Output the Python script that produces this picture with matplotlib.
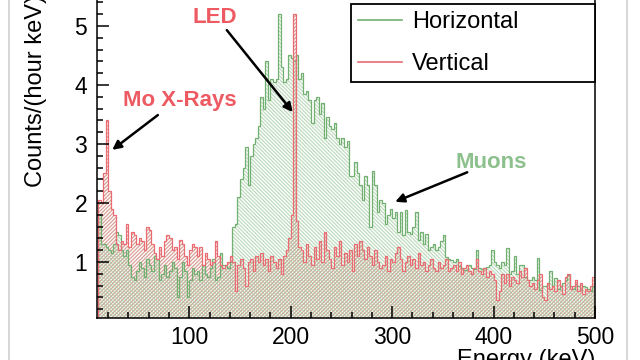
import numpy as np
import matplotlib
matplotlib.use('Agg')
import matplotlib.pyplot as plt
from matplotlib.ticker import MultipleLocator
from matplotlib.lines import Line2D

plt.rcParams['font.family'] = ['Liberation Sans', 'DejaVu Sans']
plt.rcParams['hatch.linewidth'] = 0.9

# energy binning (keV): 196 bins of 2.5 keV from 10 to 500
e_min, e_max, n_bins = 10, 500, 196
edges = np.linspace(e_min, e_max, n_bins + 1)

# counts/(hour keV)
vertical = [
    2.05, 2.0, 2.5, 3.4, 2.2, 1.9, 1.8, 1.3, 1.2, 1.35,
    1.3, 1.65, 1.25, 1.5, 1.45, 1.3, 1.4, 1.35, 1.2, 1.6,
    1.55, 1.3, 1.15, 1.05, 1.25, 1.1, 1.35, 1.45, 1.4, 1.2,
    1.25, 1.05, 1.38, 1.3, 1.1, 0.95, 1.2, 1.3, 1.25, 1.1,
    1.25, 0.95, 1.15, 1.05, 0.95, 1.0, 1.35, 1.1, 0.95, 0.9,
    0.95, 1.0, 1.1, 1.0, 0.5, 0.95, 1.05, 0.9, 0.6, 1.0,
    1.05, 0.85, 1.1, 1.0, 1.15, 0.95, 1.05, 0.85, 1.1, 1.0,
    0.9, 1.05, 0.8, 1.1, 1.2, 1.4, 1.8, 5.2, 1.7, 1.25,
    1.2, 1.0, 1.3, 1.1, 0.95, 1.25, 1.05, 1.35, 1.0, 1.5,
    1.2, 1.05, 0.9, 1.25, 1.1, 1.35, 0.95, 1.15, 1.0, 1.2,
    0.85, 1.3, 1.1, 1.35, 1.2, 1.05, 1.25, 1.1, 0.95, 1.2,
    1.0, 0.9, 0.95, 1.1, 0.85, 1.05, 1.0, 1.15, 1.25, 1.05,
    0.85, 1.0, 1.1, 0.95, 1.05, 0.9, 1.15, 0.95, 1.0, 0.85,
    0.95, 1.05, 0.9, 0.85, 1.0, 0.9, 0.95, 1.05, 0.85, 0.9,
    0.95, 0.85, 1.0, 0.8, 0.9, 0.95, 0.85, 0.8, 0.9, 1.05,
    0.85, 0.8, 0.9, 0.75, 0.85, 0.8, 0.7, 0.35, 0.5, 0.8,
    0.65, 0.8, 0.6, 0.75, 0.7, 0.65, 0.85, 0.75, 0.9, 0.7,
    0.6, 0.65, 0.55, 0.7, 0.8, 0.4, 0.35, 0.65, 0.55, 0.6,
    0.5, 0.7, 0.6, 0.45, 0.75, 0.8, 0.55, 0.6, 0.7, 0.5,
    0.65, 0.45, 0.55, 0.5, 0.6, 0.75,
]
horizontal = [
    1.8, 1.3, 1.3, 1.25, 1.2, 1.15, 1.3, 1.5, 1.45, 1.2,
    1.1, 1.2, 0.95, 0.75, 0.7, 0.85, 1.0, 0.9, 0.75, 1.05,
    0.95, 0.85, 1.1, 1.05, 0.7, 0.8, 0.95, 0.75, 0.85, 1.0,
    0.9, 0.4, 0.75, 1.0, 0.85, 0.4, 0.7, 0.9, 0.8, 0.85,
    0.7, 0.95, 0.8, 0.75, 0.9, 1.05, 0.7, 0.75, 1.15, 0.95,
    0.95, 0.9, 1.0, 1.6, 1.65, 2.1, 2.4, 2.6, 2.95, 2.3,
    2.8, 3.0, 3.1, 3.3, 3.8, 3.6, 4.4, 3.75, 4.1, 4.05,
    4.1, 5.2, 4.3, 4.05, 4.1, 4.5, 4.45, 4.4, 4.5, 4.1,
    4.2, 3.85, 3.9, 3.75, 3.35, 3.75, 3.8, 3.5, 3.7, 3.1,
    3.45, 3.3, 3.25, 3.35, 3.1, 3.0, 3.1, 2.95, 3.05, 2.45,
    2.45, 2.7, 2.5, 2.3, 2.05, 2.45, 2.3, 1.6, 2.55, 2.3,
    1.85, 2.05, 2.0, 1.65, 1.8, 1.9, 1.75, 1.85, 1.5, 1.85,
    1.45, 1.88, 1.5, 1.48, 1.6, 1.85, 1.37, 1.5, 1.3, 1.48,
    1.2, 1.25, 1.3, 1.2, 1.25, 1.35, 1.45, 1.08, 1.05, 1.03,
    1.0, 1.05, 0.93, 0.9, 0.87, 0.87, 0.95, 0.9, 0.88, 1.2,
    0.9, 0.88, 0.9, 0.92, 0.95, 1.2, 1.0, 0.95, 0.9, 1.0,
    0.95, 1.23, 0.8, 0.85, 1.1, 0.8, 0.95, 0.95, 0.75, 0.7,
    0.7, 0.75, 0.7, 1.07, 0.52, 0.6, 0.6, 0.65, 0.85, 0.6,
    0.73, 0.55, 0.6, 0.65, 0.7, 0.78, 0.6, 0.55, 0.62, 0.6,
    0.52, 0.6, 0.58, 0.55, 0.5, 0.6,
]

x_ticks = [100, 200, 300, 400, 500]
y_ticks = [1, 2, 3, 4, 5]

green_line = '#72b072'
green_hatch = (0.64, 0.80, 0.64, 0.7)
red_line = '#ea6b72'
red_hatch = '#d9a096'

fig = plt.figure(figsize=(6.4, 3.6), dpi=100)
# axes top runs past the figure edge, like the cropped original
ax = fig.add_axes([97 / 640, 42 / 360, 498 / 640, 328 / 360])

ax.stairs(vertical, edges, fill=True, facecolor='none', edgecolor=red_hatch,
          hatch='/' * 9, linewidth=0)
ax.stairs(horizontal, edges, fill=True, facecolor='none', edgecolor=green_hatch,
          hatch='\\' * 9, linewidth=0)
ax.stairs(horizontal, edges, color=green_line, linewidth=0.9, label='Horizontal')
ax.stairs(vertical, edges, color=red_line, linewidth=0.9, label='Vertical')

ax.set_xlim(9, 500)
ax.set_ylim(0.05, 5.61)
ax.set_xticks(x_ticks)
ax.set_yticks(y_ticks)
ax.xaxis.set_minor_locator(MultipleLocator(20))
ax.yaxis.set_minor_locator(MultipleLocator(0.2))
ax.tick_params(which='both', direction='in', width=1.1, labelsize=16.5)
ax.tick_params(which='major', length=8.5)
ax.tick_params(which='minor', length=4.3)
ax.tick_params(axis='x', pad=6)
ax.tick_params(axis='y', pad=7)
for s in ax.spines.values():
    s.set_linewidth(1.1)

# labels (partly cut off in the original)
fig.text(36 / 640, (360 - 187) / 360, 'Counts/(hour keV)', rotation=90,
         ha='center', va='bottom', fontsize=17)
fig.text(595 / 640, (360 - 349) / 360, 'Energy (keV)', ha='right', va='top', fontsize=17)

# annotations
red_txt = '#ee5a62'
green_txt = '#8cc08c'
arrow = dict(arrowstyle='-|>', color='black', lw=1.8, mutation_scale=13, shrinkA=0, shrinkB=0)
ax.text(125, 5.15, 'LED', color=red_txt, fontsize=16, fontweight='bold', ha='center', va='center')
ax.annotate('', xy=(202, 3.54), xytext=(137, 4.93), arrowprops=arrow)
ax.text(91, 3.74, 'Mo X-Rays', color=red_txt, fontsize=16, fontweight='bold', ha='center', va='center')
ax.annotate('', xy=(24, 2.9), xytext=(69, 3.49), arrowprops=arrow)
ax.text(398, 2.69, 'Muons', color=green_txt, fontsize=16, fontweight='bold', ha='center', va='center')
ax.annotate('', xy=(303, 2.02), xytext=(374, 2.52), arrowprops=arrow)

handles = [Line2D([], [], color=green_line, lw=1.2), Line2D([], [], color=red_line, lw=1.2)]
leg = ax.legend(handles, ['Horizontal', 'Vertical'], loc='lower left',
                bbox_to_anchor=(351 / 640, (360 - 82) / 360, 244 / 640, 0.2),
                bbox_transform=fig.transFigure, mode='expand', borderaxespad=0,
                fontsize=17, handlelength=1.85, handletextpad=0.45, borderpad=0.3,
                labelspacing=0.85, fancybox=False, framealpha=1, edgecolor='black')
leg.get_frame().set_linewidth(1.3)

# slide border lines
for xb in (9 / 640, 627 / 640):
    fig.add_artist(Line2D([xb, xb], [0, 1], color='#d0d0d0', lw=1.2, transform=fig.transFigure))

fig.savefig('out.png', dpi=100)
